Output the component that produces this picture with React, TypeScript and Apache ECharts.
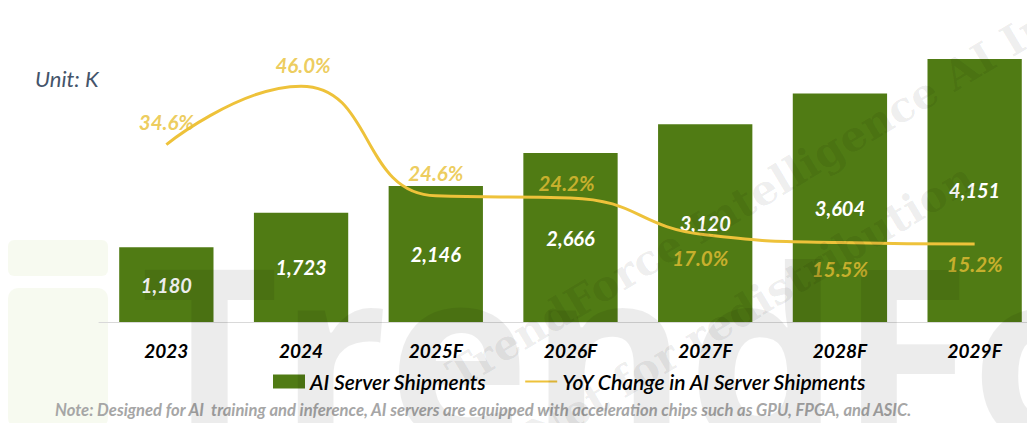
import React, { useEffect, useRef } from "react";
import * as echarts from "echarts";

const categories = ["2023", "2024", "2025F", "2026F", "2027F", "2028F", "2029F"];
const shipments = [1180, 1723, 2146, 2666, 3120, 3604, 4151];
const yoyChange = [34.6, 46.0, 24.6, 24.2, 17.0, 15.5, 15.2];
const barName = "AI Server Shipments";
const lineName = "YoY Change in AI Server Shipments";
const unitText = "Unit: K";
const noteText =
  "Note: Designed for AI  training and inference, AI servers are equipped with acceleration chips such as GPU, FPGA, and ASIC.";

// label placement for the YoY labels (style only)
const yoyLabelPos = ["top", "top", "top", "top", "bottom", "bottom", "bottom"];
const yoyLabelDist = [13, 11, 13, 5, 13, 16, 10];
const yoyLabelDx = [0, 2, 0, -4, -5, 0, 0];

const FONT = "Lato, 'Open Sans', sans-serif";

export default function App() {
  const ref = useRef<HTMLDivElement>(null);

  useEffect(() => {
    if (!ref.current) return;
    const chart = echarts.init(ref.current, undefined, { renderer: "svg" });
    const option: any = {
      animation: false,
      backgroundColor: "#ffffff",
      textStyle: { fontFamily: FONT },
      grid: { left: 99, top: 40, width: 943, height: 282, containLabel: false },
      legend: {
        data: [
          { name: barName, icon: "rect" },
          { name: lineName, itemStyle: { opacity: 0 } },
        ],
        left: 268,
        top: 366,
        itemWidth: 32,
        itemHeight: 14,
        itemGap: 38,
        textStyle: {
          fontFamily: FONT,
          fontSize: 21,
          fontStyle: "italic",
          fontWeight: 600,
          color: "#000000",
        },
      },
      xAxis: {
        type: "category",
        data: categories,
        axisLine: { show: true, lineStyle: { color: "#d9d9d9", width: 1 } },
        axisTick: { show: false },
        axisLabel: {
          margin: 19,
          fontFamily: FONT,
          fontSize: 19,
          fontStyle: "italic",
          fontWeight: "bold",
          color: "#000000",
        },
      },
      yAxis: [
        { type: "value", min: 0, max: 4450, show: false, splitLine: { show: false } },
        { type: "value", min: 0, max: 55, show: false, splitLine: { show: false } },
      ],
      series: [
        {
          name: barName,
          type: "bar",
          data: shipments,
          barWidth: "70%",
          itemStyle: { color: "#507b14" },
          label: {
            show: true,
            position: "inside",
            color: "#ffffff",
            fontFamily: FONT,
            fontSize: 20,
            fontStyle: "italic",
            fontWeight: "bold",
            formatter: (p: any) => Number(p.value).toLocaleString("en-US"),
          },
          z: 2,
        },
        {
          name: lineName,
          type: "line",
          yAxisIndex: 1,
          data: yoyChange,
          smooth: 0.5,
          symbol: "none",
          lineStyle: { color: "#eec23a", width: 3 },
          itemStyle: { color: "#eec23a" },
          z: 3,
        },
        {
          name: "_yoyLabels",
          type: "scatter",
          yAxisIndex: 1,
          symbolSize: 0,
          silent: true,
          data: yoyChange.map((v, i) => ({
            value: v,
            label: {
              show: true,
              position: yoyLabelPos[i],
              distance: yoyLabelDist[i],
              offset: [yoyLabelDx[i], 0],
            },
          })),
          label: {
            show: true,
            color: "#e8bf34",
            fontFamily: FONT,
            fontSize: 20.5,
            fontStyle: "italic",
            fontWeight: "bold",
            formatter: (p: any) => Number(p.value).toFixed(1) + "%",
          },
          z: 4,
        },
      ],
      graphic: [
        {
          type: "rect",
          shape: { x: 8, y: 240, width: 100, height: 36, r: 6 },
          style: { fill: "rgba(170,195,90,0.09)" },
          z: 0,
          silent: true,
        },
        {
          type: "rect",
          shape: { x: 8, y: 288, width: 100, height: 140, r: 10 },
          style: { fill: "rgba(170,195,90,0.09)" },
          z: 0,
          silent: true,
        },
        {
          type: "text",
          left: 35,
          top: 67,
          style: {
            text: unitText,
            fontFamily: FONT,
            fontSize: 22,
            fontStyle: "italic",
            fill: "#44546a",
          },
        },
        {
          type: "text",
          left: 55,
          top: 401,
          style: {
            text: noteText,
            fontFamily: FONT,
            fontSize: 16.6,
            fontStyle: "italic",
            fontWeight: "bold",
            fill: "#a6a6a6",
          },
        },
        {
          type: "text",
          x: 140,
          y: 228,
          z: 100,
          silent: true,
          style: {
            text: "TrendForce",
            fontFamily: "'Open Sans', sans-serif",
            fontSize: 240,
            fontWeight: "bold",
            fill: "rgba(0,0,0,0.075)",
          },
        },
        {
          type: "text",
          x: 440,
          y: 360,
          rotation: (31 * Math.PI) / 180,
          z: 100,
          silent: true,
          style: {
            text: "TrendForce Intelligence AI Infra",
            fontFamily: "'DejaVu Serif', serif",
            fontSize: 42,
            fontWeight: "bold",
            fill: "rgba(0,0,0,0.07)",
          },
        },
        {
          type: "text",
          x: 520,
          y: 420,
          rotation: (31 * Math.PI) / 180,
          z: 100,
          silent: true,
          style: {
            text: "Not for redistribution",
            fontFamily: "'DejaVu Serif', serif",
            fontSize: 42,
            fontWeight: "bold",
            fill: "rgba(0,0,0,0.07)",
          },
        },
      ],
    };
    chart.setOption(option);
    return () => chart.dispose();
  }, []);

  return (
    <div
      style={{
        position: "absolute",
        left: 0,
        top: 0,
        width: 1027,
        height: 423,
        overflow: "hidden",
      }}
    >
      <div ref={ref} style={{ width: 1060, height: 423 }} />
    </div>
  );
}
